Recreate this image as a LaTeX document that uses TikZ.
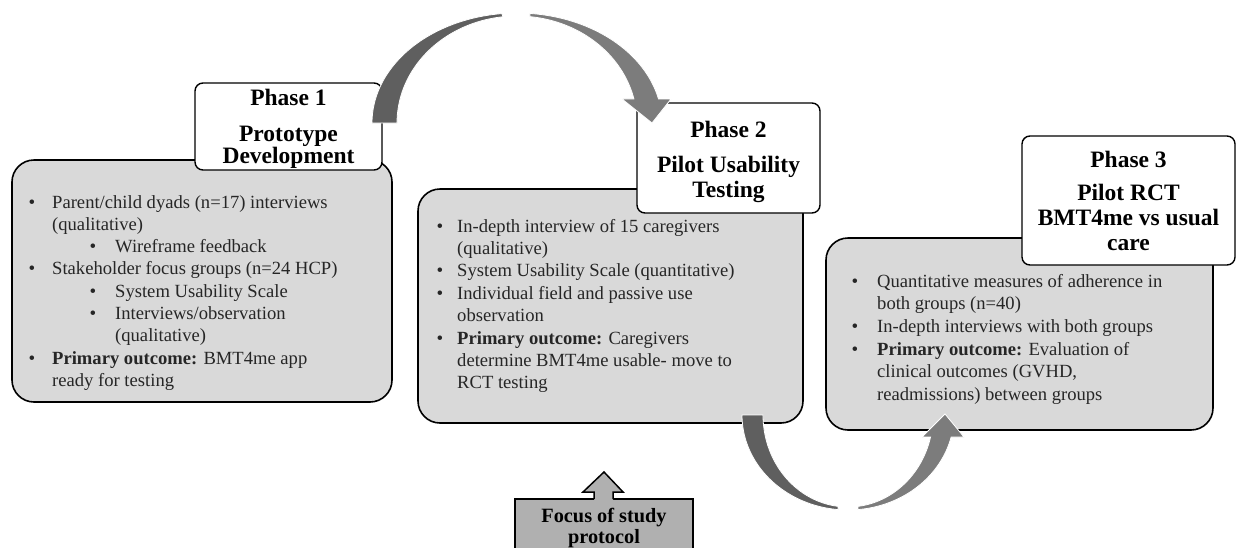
\documentclass[tikz,border=0pt]{standalone}
\usepackage{fontspec}
\setmainfont{Liberation Serif}
\definecolor{boxgray}{HTML}{D9D9D9}
\definecolor{focusgray}{HTML}{B0B0B0}
\definecolor{arrowdark}{HTML}{5F5F5F}
\definecolor{arrowlight}{HTML}{7C7C7C}
\definecolor{textcol}{HTML}{262626}
\newcommand{\bodyfnt}{\fontsize{18.6}{22}\selectfont}
\newcommand{\titlefnt}{\fontsize{23.5}{25}\selectfont\bfseries}
\newcommand{\focusfnt}{\fontsize{20.3}{21}\selectfont\bfseries}
\begin{document}
\begin{tikzpicture}[x=1pt,y=-1pt,
  graybox/.style={draw=black, line width=1.6pt, fill=boxgray, rounded corners=22pt, inner sep=0pt},
  titlebox/.style={draw=black, line width=1.4pt, fill=white, rounded corners=8pt, inner sep=0pt},
  focusbox/.style={draw=black, line width=1.5pt, fill=focusgray, inner sep=0pt},
  body/.style={anchor=base west, inner sep=0pt, font=\bodyfnt, text=textcol},
  bul/.style={anchor=base, inner sep=0pt, font=\fontsize{19}{19}\selectfont, text=textcol},
  ttl/.style={anchor=base, inner sep=0pt, font=\titlefnt, text=black},
  foc/.style={anchor=base, inner sep=0pt, font=\focusfnt, text=black},
  arrowpiece/.style={draw=white, line width=0.8pt}
]
\useasboundingbox (0,0) rectangle (1236,547);

% ---------- gray content boxes ----------
\node[graybox, minimum width=380pt, minimum height=242pt] (b1) at (202,281) {};
\node[graybox, minimum width=385pt, minimum height=234pt] (b2) at (610.5,306) {};
\node[graybox, minimum width=387pt, minimum height=192pt] (b3) at (1019.5,334) {};

% ---------- title boxes ----------
\node[titlebox, minimum width=187pt, minimum height=87pt] (t1) at (288.5,126.5) {};
\node[titlebox, minimum width=183pt, minimum height=110pt] (t2) at (728.5,158) {};
\node[titlebox, minimum width=213pt, minimum height=129pt] (t3) at (1128.5,200.5) {};

\node[ttl] (t1a) at (288.5,105) {Phase 1};
\node[ttl] (t1b) at (288.5,141) {Prototype};
\node[ttl] (t1c) at (288.5,163) {Development};

\node[ttl] (t2a) at (728.5,137) {Phase 2};
\node[ttl] (t2b) at (728.5,172) {Pilot Usability};
\node[ttl] (t2c) at (728.5,197) {Testing};

\node[ttl] (t3a) at (1128.5,167) {Phase 3};
\node[ttl] (t3b) at (1128.5,200) {Pilot RCT};
\node[ttl] (t3c) at (1128.5,225) {BMT4me vs usual};
\node[ttl] (t3d) at (1128.5,250) {care};

% ---------- box 1 text ----------
\node[bul] (p1k1) at (32,208) {•};
\node[body] (p1l1) at (52,208) {Parent/child dyads (n=17) interviews};
\node[body] (p1l2) at (52,230.3) {(qualitative)};
\node[bul] (p1k2) at (93,252.6) {•};
\node[body] (p1l3) at (115,252.6) {Wireframe feedback};
\node[bul] (p1k3) at (32,274.9) {•};
\node[body] (p1l4) at (52,274.9) {Stakeholder focus groups (n=24 HCP)};
\node[bul] (p1k4) at (93,297.2) {•};
\node[body] (p1l5) at (115,297.2) {System Usability Scale};
\node[bul] (p1k5) at (93,319.5) {•};
\node[body] (p1l6) at (115,319.5) {Interviews/observation};
\node[body] (p1l7) at (115,341.8) {(qualitative)};
\node[bul] (p1k6) at (32,364.1) {•};
\node[body] (p1l8) at (52,364.1) {\textbf{Primary outcome:} BMT4me app};
\node[body] (p1l9) at (52,386.4) {ready for testing};

% ---------- box 2 text ----------
\node[bul] (p2k1) at (440,232) {•};
\node[body] (p2l1) at (457,232) {In-depth interview of 15 caregivers};
\node[body] (p2l2) at (457,254.4) {(qualitative)};
\node[bul] (p2k2) at (440,276.8) {•};
\node[body] (p2l3) at (457,276.8) {System Usability Scale (quantitative)};
\node[bul] (p2k3) at (440,299.2) {•};
\node[body] (p2l4) at (457,299.2) {Individual field and passive use};
\node[body] (p2l5) at (457,321.6) {observation};
\node[bul] (p2k4) at (440,344) {•};
\node[body] (p2l6) at (457,344) {\textbf{Primary outcome:} Caregivers};
\node[body] (p2l7) at (457,366.4) {determine BMT4me usable- move to};
\node[body] (p2l8) at (457,388.8) {RCT testing};

% ---------- box 3 text ----------
\node[bul] (p3k1) at (855,287) {•};
\node[body] (p3l1) at (877,287) {Quantitative measures of adherence in};
\node[body] (p3l2) at (877,309.7) {both groups (n=40)};
\node[bul] (p3k2) at (855,332.4) {•};
\node[body] (p3l3) at (877,332.4) {In-depth interviews with both groups};
\node[bul] (p3k3) at (855,355.1) {•};
\node[body] (p3l4) at (877,355.1) {\textbf{Primary outcome:} Evaluation of};
\node[body] (p3l5) at (877,377.8) {clinical outcomes (GVHD,};
\node[body] (p3l6) at (877,400.5) {readmissions) between groups};

% ---------- focus box ----------
\node[focusbox, minimum width=178pt, minimum height=80pt] (fb) at (604,539) {};
\fill[focusgray] (594,501) -- (594,492) -- (583,492) -- (604,472) -- (623,492) -- (613,492) -- (613,501) -- cycle;
\draw[line width=1.5pt, line join=miter] (594,499) -- (594,492) -- (583,492) -- (604,472) -- (623,492) -- (613,492) -- (613,499);
\node[foc] (fa) at (604,522) {Focus of study};
\node[foc] (fbt) at (604,543) {protocol};

% ---------- curved arrow phase 1 -> phase 2 ----------
\fill[arrowdark, arrowpiece]
  plot[domain=180:96, samples=50] ({517+145*cos(\x)},{123-110*sin(\x)})
  -- plot[domain=96.7:180, samples=50] ({517+120*cos(\x)},{123-107*sin(\x)}) -- cycle;
\fill[arrowlight, arrowpiece]
  plot[domain=84.9:12.6, samples=50] ({517+145*cos(\x)},{123-110*sin(\x)})
  -- (671,99) -- (652,123) -- (622,99)
  -- plot[domain=13:83.8, samples=50] ({517+120*cos(\x)},{123-107*sin(\x)}) -- cycle;

% ---------- curved arrow phase 2 -> phase 3 ----------
\fill[arrowdark, arrowpiece]
  plot[domain=180:95.4, samples=50] ({848+106*cos(\x)},{415+95*sin(\x)})
  -- plot[domain=96.8:180, samples=50] ({848+85*cos(\x)},{415+92*sin(\x)}) -- cycle;
\fill[arrowlight, arrowpiece]
  plot[domain=84.6:13.4, samples=50] ({848+106*cos(\x)},{415+95*sin(\x)})
  -- (964,437) -- (945,414) -- (922,437)
  -- plot[domain=13.8:83.2, samples=50] ({848+85*cos(\x)},{415+92*sin(\x)}) -- cycle;
\end{tikzpicture}
\end{document}
